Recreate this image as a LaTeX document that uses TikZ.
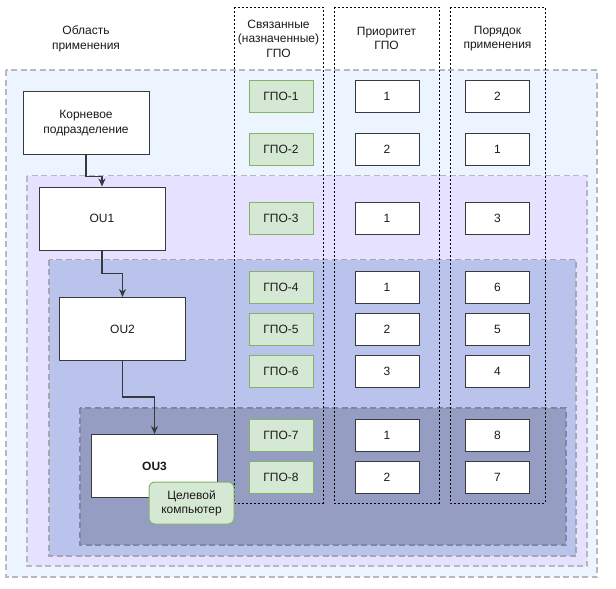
\documentclass[tikz,border=0pt]{standalone}
\usepackage{fontspec}
\setmainfont{Liberation Sans}
\usetikzlibrary{arrows.meta}
\definecolor{regA}{HTML}{EBF4FF}
\definecolor{regB}{HTML}{E5E1FE}
\definecolor{regC}{HTML}{BAC3EC}
\definecolor{regD}{HTML}{959EC2}
\definecolor{regborder}{HTML}{B8B8C0}
\definecolor{regDborder}{HTML}{7E86A6}
\definecolor{nodeborder}{HTML}{36393D}
\definecolor{gpofill}{HTML}{D5E8D4}
\definecolor{gpoborder}{HTML}{82B366}
\definecolor{txt}{HTML}{1A1A1A}
\tikzset{
  every node/.style={font=\fontsize{12pt}{14.4pt}\selectfont, text=txt},
  region/.style={line width=1.6pt, dash pattern=on 6pt off 3.5pt},
  colbox/.style={draw=black, line width=1pt, dash pattern=on 2pt off 2pt},
  ounode/.style={draw=nodeborder, fill=white, line width=1pt, minimum width=126pt, minimum height=63pt, inner sep=0pt, align=center},
  gpo/.style={draw=gpoborder, fill=gpofill, line width=1pt, minimum width=64pt, minimum height=32pt, inner sep=0pt},
  numbox/.style={draw=nodeborder, fill=white, line width=1pt, minimum width=64pt, minimum height=32pt, inner sep=0pt},
  hdr/.style={align=center, inner sep=0pt},
  conn/.style={draw=nodeborder, line width=1.1pt, -{Stealth[length=8pt,width=7pt,inset=2.5pt]}},
}
\begin{document}
\begin{tikzpicture}[x=1pt,y=-1pt]
\useasboundingbox (0,0) rectangle (616,589);
% regions
\draw[region, draw=regborder, fill=regA] (6,70) rectangle (597,577);
\draw[region, draw=regborder, fill=regB] (27,175.5) rectangle (587,566);
\draw[region, draw=regborder!90!black, fill=regC] (49,259.5) rectangle (576,556);
\draw[region, draw=regDborder, fill=regD] (80,408) rectangle (566,545);
% column frames
\draw[colbox] (234,7) rectangle (323,503);
\draw[colbox] (334,7) rectangle (439,503);
\draw[colbox] (450,7) rectangle (545,503);
% headers
\node[hdr] (hscope) at (86,39) {Область\\применения};
\node[hdr] (hlinked) at (278.5,38.5) {Связанные\\(назначенные)\\ГПО};
\node[hdr] (hprio) at (386.5,38.5) {Приоритет\\ГПО};
\node[hdr] (horder) at (497.5,38.5) {Порядок\\применения};
% OU nodes
\node[ounode] (root) at (86,123) {Корневое\\подразделение};
\node[ounode] (ou1) at (102,218.5) {OU1};
\node[ounode] (ou2) at (122.5,329) {OU2};
\node[ounode] (ou3) at (154.5,466) {\bfseries OU3};
% connectors
\draw[conn] (root.south) |- ++(0,21.5) -| (ou1.north);
\draw[conn] (ou1.south) |- ++(0,23) -| (ou2.north);
\draw[conn] (ou2.south) |- ++(0,36) -| (ou3.north);
% GPO boxes
\foreach \n/\y/\p/\o in {1/96.5/1/2, 2/149.5/2/1, 3/218/1/3, 4/287/1/6, 5/329/2/5, 6/371/3/4, 7/435/1/8, 8/477/2/7}{
  \node[gpo] (gpo\n) at (281,\y) {ГПО-\n};
  \node[numbox] (prio\n) at (387,\y) {\p};
  \node[numbox] (ord\n) at (497.5,\y) {\o};
}
% target computer
\node[draw=gpoborder, fill=gpofill, line width=1pt, rounded corners=6pt, minimum width=85pt, minimum height=42pt, inner sep=0pt, align=center] (target) at (191.5,503) {Целевой\\компьютер};
\end{tikzpicture}
\end{document}
